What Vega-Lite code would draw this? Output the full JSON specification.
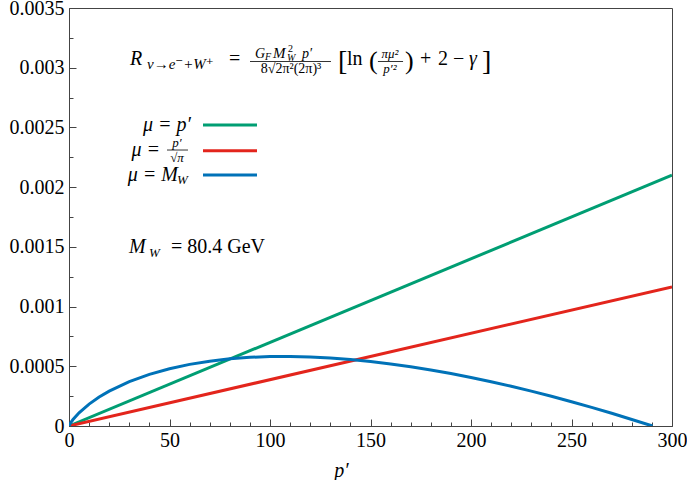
{
  "$schema": "https://vega.github.io/schema/vega-lite/v6.json",
  "width": 603,
  "height": 418,
  "autosize": {"type": "none"},
  "padding": {"left": 69, "top": 8, "right": 15, "bottom": 54},
  "background": "white",
  "config": {
    "font": "serif",
    "view": {"stroke": "#444", "strokeWidth": 1},
    "style": {
      "guide-label": {"font": "serif", "fontSize": 20, "fill": "black"},
      "guide-title": {"font": "serif", "fontSize": 20, "fill": "black"}
    },
    "text": {"font": "Liberation Serif, DejaVu Serif, serif", "fontSize": 20, "align": "left", "baseline": "alphabetic", "color": "black"},
    "axis": {"grid": false, "domainColor": "#444", "tickColor": "#444", "labelColor": "black", "titleColor": "black", "labelFont": "serif", "titleFont": "serif"}
  },
  "resolve": {"axis": {"x": "independent", "y": "independent"}},
  "datasets": {
    "one": [{}],
    "curves": [
      {"p": 0, "R": 0, "mu": "p"},
      {"p": 300, "R": 0.0021, "mu": "p"},
      {"p": 0, "R": 0, "mu": "psqrtpi"},
      {"p": 300, "R": 0.001164, "mu": "psqrtpi"},
      {"p": 0, "R": 0, "mu": "MW"},
      {"p": 0.5, "R": 0.0000164, "mu": "MW"},
      {"p": 1, "R": 0.0000309, "mu": "MW"},
      {"p": 2, "R": 0.0000543, "mu": "MW"},
      {"p": 5, "R": 0.0001108, "mu": "MW"},
      {"p": 10, "R": 0.0001837, "mu": "MW"},
      {"p": 15, "R": 0.0002424, "mu": "MW"},
      {"p": 20, "R": 0.0002918, "mu": "MW"},
      {"p": 30, "R": 0.0003713, "mu": "MW"},
      {"p": 40, "R": 0.0004324, "mu": "MW"},
      {"p": 50, "R": 0.0004796, "mu": "MW"},
      {"p": 60, "R": 0.0005159, "mu": "MW"},
      {"p": 70, "R": 0.000543, "mu": "MW"},
      {"p": 80, "R": 0.0005623, "mu": "MW"},
      {"p": 90, "R": 0.0005748, "mu": "MW"},
      {"p": 100, "R": 0.0005812, "mu": "MW"},
      {"p": 110, "R": 0.0005821, "mu": "MW"},
      {"p": 120, "R": 0.0005781, "mu": "MW"},
      {"p": 130, "R": 0.0005695, "mu": "MW"},
      {"p": 140, "R": 0.0005567, "mu": "MW"},
      {"p": 150, "R": 0.00054, "mu": "MW"},
      {"p": 160, "R": 0.0005197, "mu": "MW"},
      {"p": 170, "R": 0.000496, "mu": "MW"},
      {"p": 180, "R": 0.0004691, "mu": "MW"},
      {"p": 190, "R": 0.0004391, "mu": "MW"},
      {"p": 200, "R": 0.0004063, "mu": "MW"},
      {"p": 210, "R": 0.0003707, "mu": "MW"},
      {"p": 220, "R": 0.0003325, "mu": "MW"},
      {"p": 230, "R": 0.0002918, "mu": "MW"},
      {"p": 240, "R": 0.0002488, "mu": "MW"},
      {"p": 250, "R": 0.0002036, "mu": "MW"},
      {"p": 260, "R": 0.0001561, "mu": "MW"},
      {"p": 270, "R": 0.0001065, "mu": "MW"},
      {"p": 280, "R": 0.0000549, "mu": "MW"},
      {"p": 290.3, "R": 0, "mu": "MW"}
    ]
  },
  "layer": [
    {
      "data": {"name": "curves"},
      "mark": {"type": "line", "strokeWidth": 3, "clip": true},
      "encoding": {
        "x": {
          "field": "p", "type": "quantitative",
          "scale": {"domain": [0, 300], "nice": false, "zero": false},
          "axis": {
            "orient": "bottom",
            "labelFont": "serif", "labelFontSize": 20,
            "titleFont": "serif",
            "title": "p′", "titleFontStyle": "italic", "titleFontWeight": "normal", "titleFontSize": 20,
            "titleX": 272, "titleY": 50, "titleBaseline": "alphabetic", "titleAlign": "center", "titleAnchor": null,
            "values": [0,10,20,30,40,50,60,70,80,90,100,110,120,130,140,150,160,170,180,190,200,210,220,230,240,250,260,270,280,290,300],
            "labelExpr": "datum.value % 50 == 0 ? datum.label : ''",
            "tickSize": {"condition": {"test": "datum.value % 50 == 0", "value": -7}, "value": -4},
            "labelPadding": 11, "labelFlush": false, "labelOverlap": false
          }
        },
        "y": {
          "field": "R", "type": "quantitative",
          "scale": {"domain": [0, 0.0035], "nice": false},
          "axis": {
            "orient": "left",
            "labelFont": "serif", "labelFontSize": 20,
            "title": null,
            "values": [0, 0.00025, 0.0005, 0.00075, 0.001, 0.00125, 0.0015, 0.00175, 0.002, 0.00225, 0.0025, 0.00275, 0.003, 0.00325, 0.0035],
            "format": "~r",
            "labelExpr": "round(datum.value * 100000) % 50 == 0 ? datum.label : ''",
            "tickSize": {"condition": {"test": "round(datum.value * 100000) % 50 == 0", "value": -7}, "value": -4},
            "labelPadding": 12, "labelFlush": false, "labelOverlap": false
          }
        },
        "color": {
          "field": "mu", "type": "nominal",
          "scale": {"domain": ["p", "psqrtpi", "MW"], "range": ["#009e73", "#e3251c", "#0072b8"]},
          "legend": null
        },
        "detail": {"field": "mu"}
      }
    },
    {"data": {"name": "one"}, "mark": {"type": "rule", "strokeWidth": 3, "color": "#009e73"}, "encoding": {"x": {"datum": 66.67, "axis": null}, "x2": {"datum": 93.53}, "y": {"datum": 0.0025203, "axis": null}}},
    {"data": {"name": "one"}, "mark": {"type": "rule", "strokeWidth": 3, "color": "#e3251c"}, "encoding": {"x": {"datum": 66.67, "axis": null}, "x2": {"datum": 93.53}, "y": {"datum": 0.0023052, "axis": null}}},
    {"data": {"name": "one"}, "mark": {"type": "rule", "strokeWidth": 3, "color": "#0072b8"}, "encoding": {"x": {"datum": 66.67, "axis": null}, "x2": {"datum": 93.53}, "y": {"datum": 0.0021017, "axis": null}}},
    {"data": {"name": "one"}, "mark": {"type": "text", "text": "μ = p′", "align": "right", "fontStyle": "italic"}, "encoding": {"x": {"datum": 60.7, "axis": null}, "y": {"datum": 0.00247, "axis": null}}},
    {"data": {"name": "one"}, "mark": {"type": "text", "text": "μ =", "align": "right", "fontStyle": "italic"}, "encoding": {"x": {"datum": 45.27, "axis": null}, "y": {"datum": 0.0022608, "axis": null}}},
    {"data": {"name": "one"}, "mark": {"type": "text", "text": "p′", "align": "center", "fontStyle": "italic", "fontSize": 13}, "encoding": {"x": {"datum": 53.73, "axis": null}, "y": {"datum": 0.0023361, "axis": null}}},
    {"data": {"name": "one"}, "mark": {"type": "rule", "strokeWidth": 0.8, "color": "black"}, "encoding": {"x": {"datum": 48.76, "axis": null}, "x2": {"datum": 59.2}, "y": {"datum": 0.0023108, "axis": null}}},
    {"data": {"name": "one"}, "mark": {"type": "text", "text": "√π", "align": "center", "fontStyle": "italic", "fontSize": 13}, "encoding": {"x": {"datum": 53.73, "axis": null}, "y": {"datum": 0.0022102, "axis": null}}},
    {"data": {"name": "one"}, "mark": {"type": "text", "text": "μ = M", "align": "right", "fontStyle": "italic"}, "encoding": {"x": {"datum": 54.23, "axis": null}, "y": {"datum": 0.0020514, "axis": null}}},
    {"data": {"name": "one"}, "mark": {"type": "text", "text": "W", "fontStyle": "italic", "fontSize": 13}, "encoding": {"x": {"datum": 53.73, "axis": null}, "y": {"datum": 0.0020263, "axis": null}}},
    {"data": {"name": "one"}, "mark": {"type": "text", "text": "M", "fontStyle": "italic"}, "encoding": {"x": {"datum": 29.85, "axis": null}, "y": {"datum": 0.0014486, "axis": null}}},
    {"data": {"name": "one"}, "mark": {"type": "text", "text": "W", "fontStyle": "italic", "fontSize": 13}, "encoding": {"x": {"datum": 39.8, "axis": null}, "y": {"datum": 0.0014151, "axis": null}}},
    {"data": {"name": "one"}, "mark": {"type": "text", "text": "= 80.4 GeV"}, "encoding": {"x": {"datum": 50.75, "axis": null}, "y": {"datum": 0.0014486, "axis": null}}},
    {"data": {"name": "one"}, "mark": {"type": "text", "text": "R", "fontStyle": "italic"}, "encoding": {"x": {"datum": 30.35, "axis": null}, "y": {"datum": 0.0030227, "axis": null}}},
    {"data": {"name": "one"}, "mark": {"type": "text", "text": "ν→e⁻+W⁺", "fontStyle": "italic", "fontSize": 15}, "encoding": {"x": {"datum": 38.81, "axis": null}, "y": {"datum": 0.0029892, "axis": null}}},
    {"data": {"name": "one"}, "mark": {"type": "text", "text": "="}, "encoding": {"x": {"datum": 79.6, "axis": null}, "y": {"datum": 0.0030227, "axis": null}}},
    {"data": {"name": "one"}, "mark": {"type": "text", "text": "G", "fontStyle": "italic", "fontSize": 14}, "encoding": {"x": {"datum": 92.54, "axis": null}, "y": {"datum": 0.0030813, "axis": null}}},
    {"data": {"name": "one"}, "mark": {"type": "text", "text": "F", "fontStyle": "italic", "fontSize": 10}, "encoding": {"x": {"datum": 97.51, "axis": null}, "y": {"datum": 0.0030646, "axis": null}}},
    {"data": {"name": "one"}, "mark": {"type": "text", "text": "M", "fontStyle": "italic", "fontSize": 15}, "encoding": {"x": {"datum": 101.49, "axis": null}, "y": {"datum": 0.0030813, "axis": null}}},
    {"data": {"name": "one"}, "mark": {"type": "text", "text": "2", "fontSize": 10}, "encoding": {"x": {"datum": 108.96, "axis": null}, "y": {"datum": 0.0031316, "axis": null}}},
    {"data": {"name": "one"}, "mark": {"type": "text", "text": "W", "fontStyle": "italic", "fontSize": 10}, "encoding": {"x": {"datum": 108.46, "axis": null}, "y": {"datum": 0.0030562, "axis": null}}},
    {"data": {"name": "one"}, "mark": {"type": "text", "text": "p′", "fontStyle": "italic", "fontSize": 14}, "encoding": {"x": {"datum": 115.92, "axis": null}, "y": {"datum": 0.0030813, "axis": null}}},
    {"data": {"name": "one"}, "mark": {"type": "rule", "strokeWidth": 0.8, "color": "black"}, "encoding": {"x": {"datum": 90.05, "axis": null}, "x2": {"datum": 130.34}, "y": {"datum": 0.003052, "axis": null}}},
    {"data": {"name": "one"}, "mark": {"type": "text", "text": "8√2π²(2π)³", "align": "center", "fontSize": 14}, "encoding": {"x": {"datum": 110.44, "axis": null}, "y": {"datum": 0.0029557, "axis": null}}},
    {"data": {"name": "one"}, "mark": {"type": "text", "text": "[", "fontSize": 28}, "encoding": {"x": {"datum": 133.83, "axis": null}, "y": {"datum": 0.002981, "axis": null}}},
    {"data": {"name": "one"}, "mark": {"type": "text", "text": "ln", "fontSize": 20}, "encoding": {"x": {"datum": 138.3, "axis": null}, "y": {"datum": 0.0030227, "axis": null}}},
    {"data": {"name": "one"}, "mark": {"type": "text", "text": "(", "fontSize": 26}, "encoding": {"x": {"datum": 149.25, "axis": null}, "y": {"datum": 0.0029892, "axis": null}}},
    {"data": {"name": "one"}, "mark": {"type": "text", "text": "πμ²", "align": "center", "fontStyle": "italic", "fontSize": 13}, "encoding": {"x": {"datum": 159.7, "axis": null}, "y": {"datum": 0.0030813, "axis": null}}},
    {"data": {"name": "one"}, "mark": {"type": "rule", "strokeWidth": 0.8, "color": "black"}, "encoding": {"x": {"datum": 153.7, "axis": null}, "x2": {"datum": 166.2}, "y": {"datum": 0.003052, "axis": null}}},
    {"data": {"name": "one"}, "mark": {"type": "text", "text": "p′²", "align": "center", "fontStyle": "italic", "fontSize": 13}, "encoding": {"x": {"datum": 159.7, "axis": null}, "y": {"datum": 0.0029557, "axis": null}}},
    {"data": {"name": "one"}, "mark": {"type": "text", "text": ")", "fontSize": 26}, "encoding": {"x": {"datum": 167.2, "axis": null}, "y": {"datum": 0.0029892, "axis": null}}},
    {"data": {"name": "one"}, "mark": {"type": "text", "text": "+", "fontSize": 20}, "encoding": {"x": {"datum": 174.6, "axis": null}, "y": {"datum": 0.0030227, "axis": null}}},
    {"data": {"name": "one"}, "mark": {"type": "text", "text": "2", "fontSize": 20}, "encoding": {"x": {"datum": 183.6, "axis": null}, "y": {"datum": 0.0030227, "axis": null}}},
    {"data": {"name": "one"}, "mark": {"type": "text", "text": "−", "fontSize": 20}, "encoding": {"x": {"datum": 191.0, "axis": null}, "y": {"datum": 0.0030227, "axis": null}}},
    {"data": {"name": "one"}, "mark": {"type": "text", "text": "γ", "fontStyle": "italic", "fontSize": 20}, "encoding": {"x": {"datum": 199.0, "axis": null}, "y": {"datum": 0.0030227, "axis": null}}},
    {"data": {"name": "one"}, "mark": {"type": "text", "text": "]", "fontSize": 28}, "encoding": {"x": {"datum": 205.5, "axis": null}, "y": {"datum": 0.002981, "axis": null}}}
  ]
}
